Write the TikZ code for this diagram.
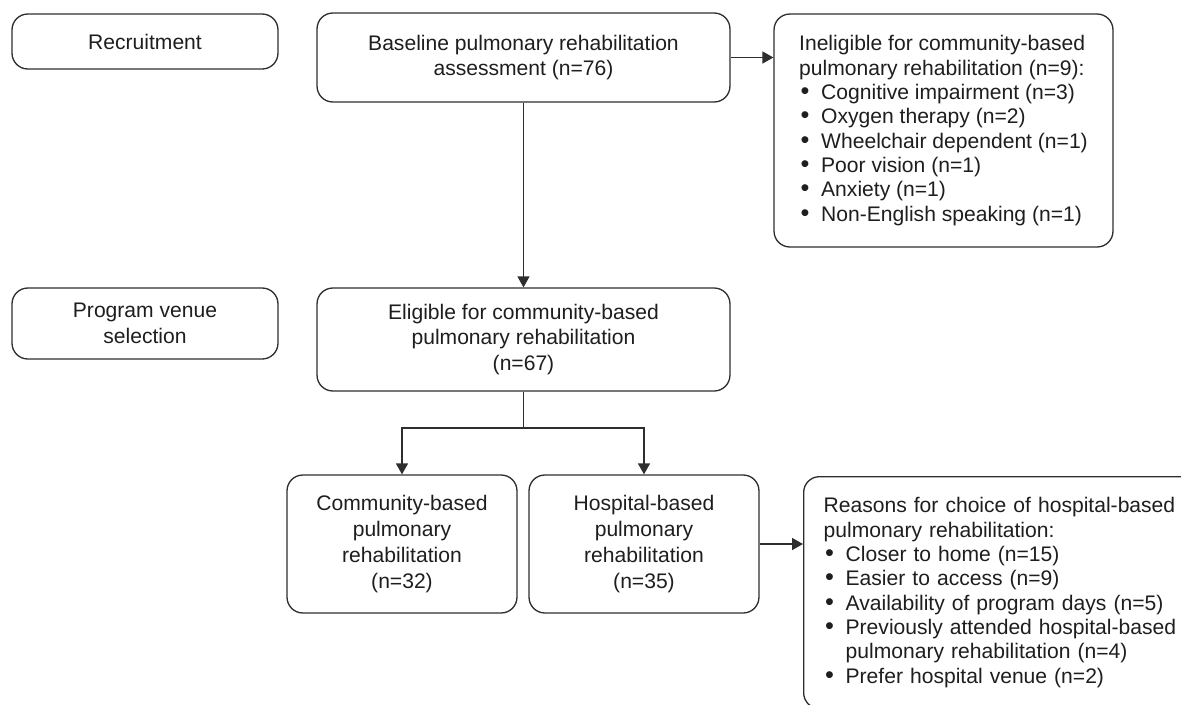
\documentclass[tikz,border=0pt]{standalone}
\usepackage{fontspec}
\setmainfont{Liberation Sans}
\usetikzlibrary{arrows.meta}
\definecolor{inkgray}{HTML}{1E1E1E}
\definecolor{linegray}{HTML}{2E2E2E}
\newcommand{\itm}{\makebox[0.44cm][l]{\hspace{0.03cm}\scalebox{1.2}{\textbullet}}}
\newcommand{\hang}{\hspace*{0.44cm}}
\tikzset{
  stagebox/.style={draw=linegray, line width=0.75pt, rounded corners=9pt, align=center, text=inkgray, font=\fontsize{12}{14.7}\selectfont, inner sep=0pt},
  listbox/.style={draw=linegray, line width=0.75pt, rounded corners=9pt, align=left, text=inkgray, font=\fontsize{12}{13.85}\selectfont, inner xsep=0.4cm, inner ysep=0pt},
  arr/.style={draw=linegray, line width=0.75pt, -{Triangle[length=6.2pt, width=6.8pt]}}
}
\begin{document}
\begin{tikzpicture}[x=0.02cm, y=-0.02cm]
  \useasboundingbox (0,0) rectangle (1181,704);
  \clip (0,0) rectangle (1181,704);
  % stage labels
  \node[stagebox, minimum width=5.32cm, minimum height=1.1cm] (recruit) at (145,41.5) {Recruitment};
  \node[stagebox, minimum width=5.32cm, minimum height=1.42cm] (venue) at (145,323.5) {Program venue\\selection};
  % main flow
  \node[stagebox, minimum width=8.26cm, minimum height=1.78cm] (base) at (523.5,57.5) {Baseline pulmonary rehabilitation\\assessment (n=76)};
  \node[stagebox, minimum width=8.26cm, minimum height=2.06cm] (elig) at (523.5,339.5) {Eligible for community-based\\pulmonary rehabilitation\\(n=67)};
  \node[stagebox, minimum width=4.6cm, minimum height=2.76cm] (comm) at (402,544) {Community-based\\pulmonary\\rehabilitation\\(n=32)};
  \node[stagebox, minimum width=4.6cm, minimum height=2.76cm] (hosp) at (644,544) {Hospital-based\\pulmonary\\rehabilitation\\(n=35)};
  % side boxes
  \node[listbox, minimum width=6.78cm, minimum height=4.66cm] (inelig) at (943.5,130.5) {Ineligible for community-based\\pulmonary rehabilitation (n=9):\\\itm Cognitive impairment (n=3)\\\itm Oxygen therapy (n=2)\\\itm Wheelchair dependent (n=1)\\\itm Poor vision (n=1)\\\itm Anxiety (n=1)\\\itm Non-English speaking (n=1)};
  \node[listbox, text width=7.24cm, minimum height=4.64cm, anchor=north west] (reasons) at (803,476) {Reasons for choice of hospital-based\\pulmonary rehabilitation:\\\itm Closer to home (n=15)\\\itm Easier to access (n=9)\\\itm Availability of program days (n=5)\\\itm Previously attended hospital-based\\\hang pulmonary rehabilitation (n=4)\\\itm Prefer hospital venue (n=2)};
  % connectors
  \coordinate (split) at (523.5,428);
  \draw[arr] (base.east) -- (base.east -| inelig.west);
  \draw[arr] (base.south) -- (elig.north);
  \draw[linegray, line width=0.75pt] (elig.south) -- (split);
  \draw[arr] (split) -| (comm.north);
  \draw[arr] (split) -| (hosp.north);
  \draw[arr] (hosp.east) -- (hosp.east -| reasons.west);
\end{tikzpicture}
\end{document}
